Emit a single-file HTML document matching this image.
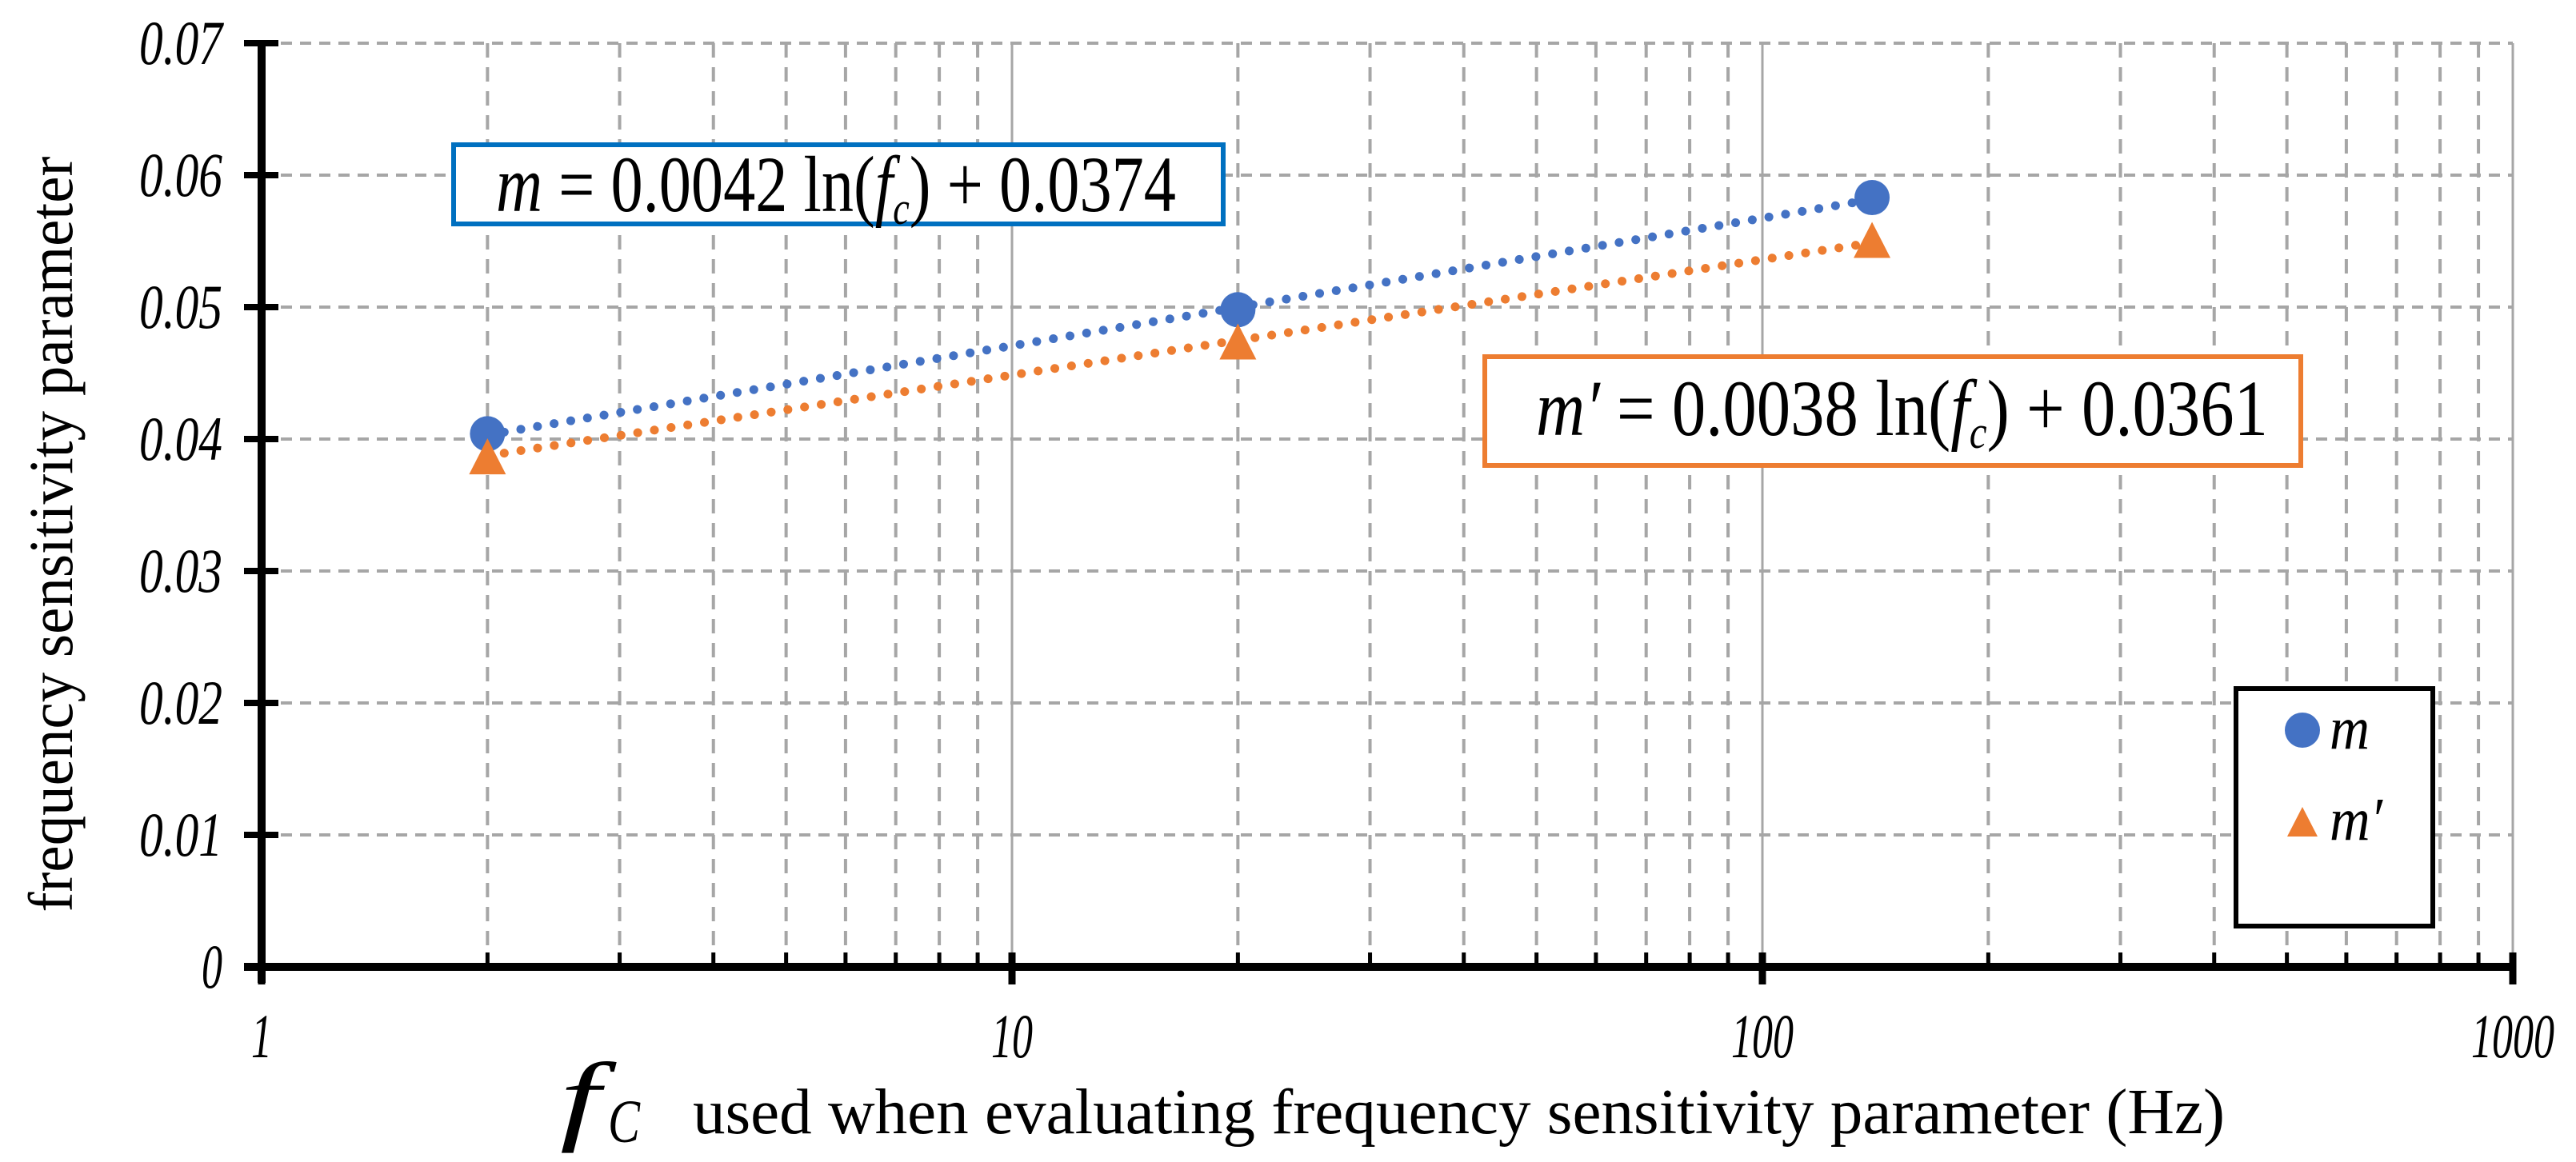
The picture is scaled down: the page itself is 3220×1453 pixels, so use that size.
<!DOCTYPE html>
<html><head><meta charset="utf-8"><style>
html,body{margin:0;padding:0;background:#fff;}
svg{display:block;font-family:"Liberation Serif","DejaVu Serif",serif;}
</style></head><body>
<svg id="chart" width="3220" height="1453" viewBox="0 0 3220 1453">
<g id="grid"></g>
<g id="marks"></g>
<g id="axes"></g>
<g id="labels"></g>

<g>
<rect x="567" y="181" width="962" height="99" fill="#fff" stroke="#0070C0" stroke-width="6"/>
<text x="620" y="264" font-size="100" textLength="850" lengthAdjust="spacingAndGlyphs"><tspan font-style="italic">m</tspan> = 0.0042 ln(<tspan font-style="italic">f</tspan><tspan font-style="italic" font-size="58" dy="16">c</tspan><tspan dy="-16">) + 0.0374</tspan></text>
</g>
<g>
<rect x="1856" y="446" width="1020" height="136" fill="#fff" stroke="#ED7D31" stroke-width="6"/>
<text x="1920" y="544" font-size="100" textLength="915" lengthAdjust="spacingAndGlyphs"><tspan font-style="italic">m′</tspan> = 0.0038 ln(<tspan font-style="italic">f</tspan><tspan font-style="italic" font-size="58" dy="16">c</tspan><tspan dy="-16">) + 0.0361</tspan></text>
</g>

<g>
<rect x="2795" y="861" width="246" height="297" fill="#fff" stroke="#000" stroke-width="6"/>
<ellipse cx="2878" cy="913" rx="22" ry="22" fill="#4472C4"/>
<text x="2912" y="936" font-size="76" font-style="italic" textLength="50" lengthAdjust="spacingAndGlyphs">m</text>
<polygon points="2878,1009 2897,1046 2859,1046" fill="#ED7D31"/>
<text x="2912" y="1050" font-size="76" font-style="italic" textLength="66" lengthAdjust="spacingAndGlyphs">m′</text>
</g>

<text transform="translate(90,668) rotate(-90)" text-anchor="middle" font-size="78" textLength="945" lengthAdjust="spacingAndGlyphs">frequency sensitivity parameter</text>
<g>
<text x="700" y="1415" font-size="125" font-style="italic" textLength="50" lengthAdjust="spacingAndGlyphs">f</text>
<text x="760" y="1428" font-size="76" font-style="italic" textLength="40" lengthAdjust="spacingAndGlyphs">C</text>
<text x="866" y="1417" font-size="80" textLength="1915" lengthAdjust="spacingAndGlyphs">used when evaluating frequency sensitivity parameter (Hz)</text>
</g>
</svg>
<script>
const yTicks = [0, 0.01, 0.02, 0.03, 0.04, 0.05, 0.06, 0.07];
const yTickLabels = ["0", "0.01", "0.02", "0.03", "0.04", "0.05", "0.06", "0.07"];
const xDecades = [1, 10, 100, 1000];
const xTickLabels = ["1", "10", "100", "1000"];
const fcValues = [2, 20, 140];
const mValues = [0.0404, 0.0498, 0.0583];
const mPrimeValues = [0.0386, 0.0473, 0.0550];
const mTrend = [0.0042, 0.0374];
const mPrimeTrend = [0.0038, 0.0361];

const X0 = 327, X1 = 3141, Y0 = 1209, Y1 = 54;
const xs = v => X0 + (Math.log10(v) - 0) / 3 * (X1 - X0);
const ys = v => Y0 - v / 0.07 * (Y0 - Y1);
const NS = 'http://www.w3.org/2000/svg';
function mk(tag, attrs, parent) {
  const e = document.createElementNS(NS, tag);
  for (const k in attrs) e.setAttribute(k, attrs[k]);
  parent.appendChild(e);
  return e;
}
const grid = document.getElementById('grid');
const axes = document.getElementById('axes');
const labels = document.getElementById('labels');
const marks = document.getElementById('marks');

yTicks.forEach((t, i) => {
  if (t === 0) return;
  const l = mk('line', {x1: X0, x2: X1, y1: ys(t), y2: ys(t), stroke: '#A6A6A6', 'stroke-width': 4, 'stroke-dasharray': '14,10'}, grid);
  
  
});
for (let d = 0; d < 3; d++) {
  for (let k = 2; k <= 10; k++) {
    const v = xDecades[d] * k;
    const major = k === 10;
    const l = mk('line', {x1: xs(v), x2: xs(v), y1: Y1, y2: Y0, stroke: '#A6A6A6', 'stroke-width': major ? 3 : 4, 'stroke-dasharray': major ? 'none' : '18,12'}, grid);
    
    
    if (!major) {
      const t = mk('line', {x1: xs(v), x2: xs(v), y1: Y0 - 18, y2: Y0, stroke: '#000', 'stroke-width': 5}, axes);
      
      
    }
  }
}
let a = mk('line', {x1: X0, x2: X0, y1: Y1 - 4, y2: Y0 + 20, stroke: '#000', 'stroke-width': 10}, axes);


a = mk('line', {x1: X0 - 22, x2: X1 + 2, y1: Y0, y2: Y0, stroke: '#000', 'stroke-width': 10}, axes);


yTicks.forEach((t, i) => {
  const l = mk('line', {x1: X0 - 22, x2: X0 + 21, y1: ys(t), y2: ys(t), stroke: '#000', 'stroke-width': 8}, axes);
  
  
  const lab = yTickLabels[i];
  const tx = mk('text', {x: 278, y: ys(t) + 26, 'text-anchor': 'end', 'font-size': 78, 'font-style': 'italic', textLength: lab.length * 26, lengthAdjust: 'spacingAndGlyphs'}, labels);
  tx.textContent = lab;
  
  
});
xDecades.forEach((v, i) => {
  const l = mk('line', {x1: xs(v), x2: xs(v), y1: Y0 - 18, y2: Y0 + 22, stroke: '#000', 'stroke-width': 9}, axes);
  
  
  const lab = xTickLabels[i];
  const tx = mk('text', {x: xs(v), y: 1322, 'text-anchor': 'middle', 'font-size': 78, 'font-style': 'italic', textLength: lab.length * 26, lengthAdjust: 'spacingAndGlyphs'}, labels);
  tx.textContent = lab;
  
  
});
function trend(coef, color, name) {
  const xa = fcValues[0], xb = fcValues[fcValues.length - 1];
  const pts = [];
  for (let i = 0; i <= 40; i++) {
    const v = Math.exp(Math.log(xa) + (Math.log(xb) - Math.log(xa)) * i / 40);
    pts.push(xs(v).toFixed(1) + ',' + ys(coef[0] * Math.log(v) + coef[1]).toFixed(1));
  }
  const p = mk('polyline', {points: pts.join(' '), fill: 'none', stroke: color, 'stroke-width': 11, 'stroke-linecap': 'round', 'stroke-dasharray': '0.1,21'}, marks);
  
  
}
trend(mTrend, '#4472C4', 'trendline-m');
trend(mPrimeTrend, '#ED7D31', 'trendline-m-prime');
fcValues.forEach((f, i) => {
  const c = mk('circle', {cx: xs(f), cy: ys(mValues[i]), r: 22, fill: '#4472C4'}, marks);
  
  
  const x = xs(f), y = ys(mPrimeValues[i]);
  const t = mk('polygon', {points: `${x},${y - 24} ${x + 23},${y + 21} ${x - 23},${y + 21}`, fill: '#ED7D31'}, marks);
  
  
});
</script>
</body></html>
